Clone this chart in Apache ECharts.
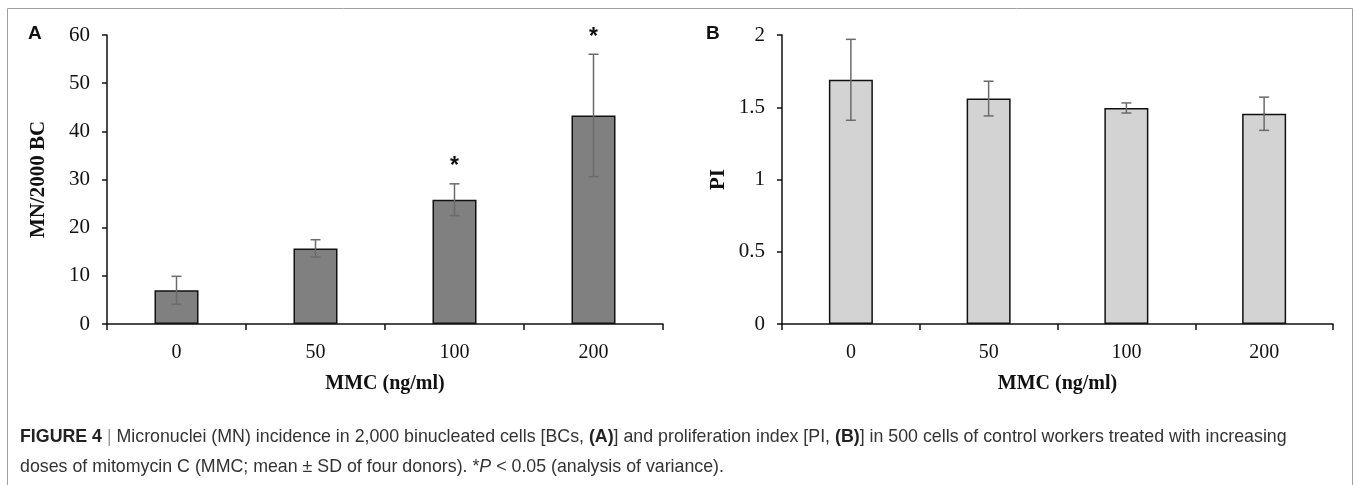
<!DOCTYPE html>
<html>
<head>
<meta charset="utf-8">
<script src="https://cdn.jsdelivr.net/npm/echarts@6/dist/echarts.min.js"></script>
<style>
  html, body { margin: 0; padding: 0; background: #fff; }
  #chart { width: 1359px; height: 485px; }
</style>
</head>
<body>
<div id="chart"></div>
<script>
// doses of MMC (ng/ml)
const doses = ['0', '50', '100', '200'];

// panel A: MN per 2000 BC
const mnMean = [7.0, 15.7, 25.8, 43.3];
const mnSd = [2.9, 1.8, 3.3, 12.7];
const mnSig = ['', '', '*', '*'];

// panel B: proliferation index
const piMean = [1.69, 1.56, 1.495, 1.455];
const piSd = [0.28, 0.12, 0.035, 0.115];

const serif = '"Liberation Serif", "Times New Roman", serif';
const sans = '"Liberation Sans", Arial, sans-serif';

const chart = echarts.init(document.getElementById('chart'), null, { renderer: 'canvas' });

function errItem(means, sds, sig) {
  return function (params, api) {
    const i = api.value(0);
    const hi = api.coord([i, means[i] + sds[i]]);
    const lo = api.coord([i, means[i] - sds[i]]);
    const x = hi[0];
    const cap = 5;
    const st = { stroke: '#6b6b6b', lineWidth: 1.5 };
    const kids = [
      { type: 'line', shape: { x1: x, y1: hi[1], x2: x, y2: lo[1] }, style: st },
      { type: 'line', shape: { x1: x - cap, y1: hi[1], x2: x + cap, y2: hi[1] }, style: st },
      { type: 'line', shape: { x1: x - cap, y1: lo[1], x2: x + cap, y2: lo[1] }, style: st }
    ];
    if (sig && sig[i]) {
      kids.push({
        type: 'text',
        style: {
          text: sig[i], x: x, y: hi[1] - 17,
          align: 'center', verticalAlign: 'middle',
          font: 'bold 23px ' + sans, fill: '#111'
        }
      });
    }
    return { type: 'group', children: kids };
  };
}

function catAxis(gi) {
  return {
    type: 'category', gridIndex: gi, data: doses,
    name: 'MMC (ng/ml)', nameLocation: 'middle', nameGap: 50,
    nameTextStyle: { fontFamily: serif, fontWeight: 'bold', fontSize: 20, color: '#111' },
    axisLine: { lineStyle: { color: '#111', width: 1.5 } },
    axisTick: { show: true, length: 6, lineStyle: { color: '#111', width: 1.5 } },
    axisLabel: { fontFamily: serif, fontSize: 20, color: '#111', margin: 19 }
  };
}

function valAxis(gi, name, max, step, gap) {
  return {
    type: 'value', gridIndex: gi, min: 0, max: max, interval: step,
    name: name, nameLocation: 'middle', nameGap: gap,
    nameTextStyle: { fontFamily: serif, fontWeight: 'bold', fontSize: 21, color: '#111' },
    axisLine: { show: true, lineStyle: { color: '#111', width: 1.5 } },
    axisTick: { show: true, length: 5, lineStyle: { color: '#111', width: 1.5 } },
    axisLabel: { fontFamily: serif, fontSize: 21, color: '#111', margin: 17 },
    splitLine: { show: false }
  };
}

chart.setOption({
  animation: false,
  backgroundColor: '#fff',
  grid: [
    { left: 107, right: 696, top: 35, bottom: 161 },
    { left: 782, right: 26, top: 35, bottom: 161 }
  ],
  xAxis: [catAxis(0), catAxis(1)],
  yAxis: [
    valAxis(0, 'MN/2000 BC', 60, 10, 58),
    valAxis(1, 'PI', 2, 0.5, 53)
  ],
  series: [
    {
      type: 'bar', xAxisIndex: 0, yAxisIndex: 0, data: mnMean, barWidth: 44,
      itemStyle: { color: '#808080', borderColor: '#111', borderWidth: 1.5 }
    },
    {
      type: 'custom', xAxisIndex: 0, yAxisIndex: 0,
      data: doses.map((d, i) => [i, mnMean[i]]),
      renderItem: errItem(mnMean, mnSd, mnSig), z: 5
    },
    {
      type: 'bar', xAxisIndex: 1, yAxisIndex: 1, data: piMean, barWidth: 44,
      itemStyle: { color: '#d3d3d3', borderColor: '#111', borderWidth: 1.5 }
    },
    {
      type: 'custom', xAxisIndex: 1, yAxisIndex: 1,
      data: doses.map((d, i) => [i, piMean[i]]),
      renderItem: errItem(piMean, piSd, null), z: 5
    }
  ],
  graphic: [
    {
      type: 'rect', silent: true,
      shape: { x: 7.5, y: 8.5, width: 1345, height: 500 },
      style: { fill: 'none', stroke: '#a0a0a0', lineWidth: 1 }
    },
    { type: 'text', left: 28, top: 24, style: { text: 'A', font: 'bold 19px ' + sans, fill: '#111' } },
    { type: 'text', left: 706, top: 24, style: { text: 'B', font: 'bold 19px ' + sans, fill: '#111' } },
    {
      type: 'text', left: 20, top: 422,
      style: {
        text: '{b|FIGURE 4} {g||} Micronuclei (MN) incidence in 2,000 binucleated cells [BCs, {b|(A)}] and proliferation index [PI, {b|(B)}] in 500 cells of control workers treated with increasing\n' +
              'doses of mitomycin C (MMC; mean ± SD of four donors). *{i|P} < 0.05 (analysis of variance).',
        font: '17.8px ' + sans, fill: '#333', lineHeight: 30,
        rich: {
          b: { fontWeight: 'bold', fontSize: 17.8, fontFamily: sans, fill: '#222' },
          g: { fontSize: 17.8, fontFamily: sans, fill: '#999' },
          i: { fontStyle: 'italic', fontSize: 17.8, fontFamily: sans, fill: '#333' }
        }
      }
    }
  ]
});
</script>
</body>
</html>
